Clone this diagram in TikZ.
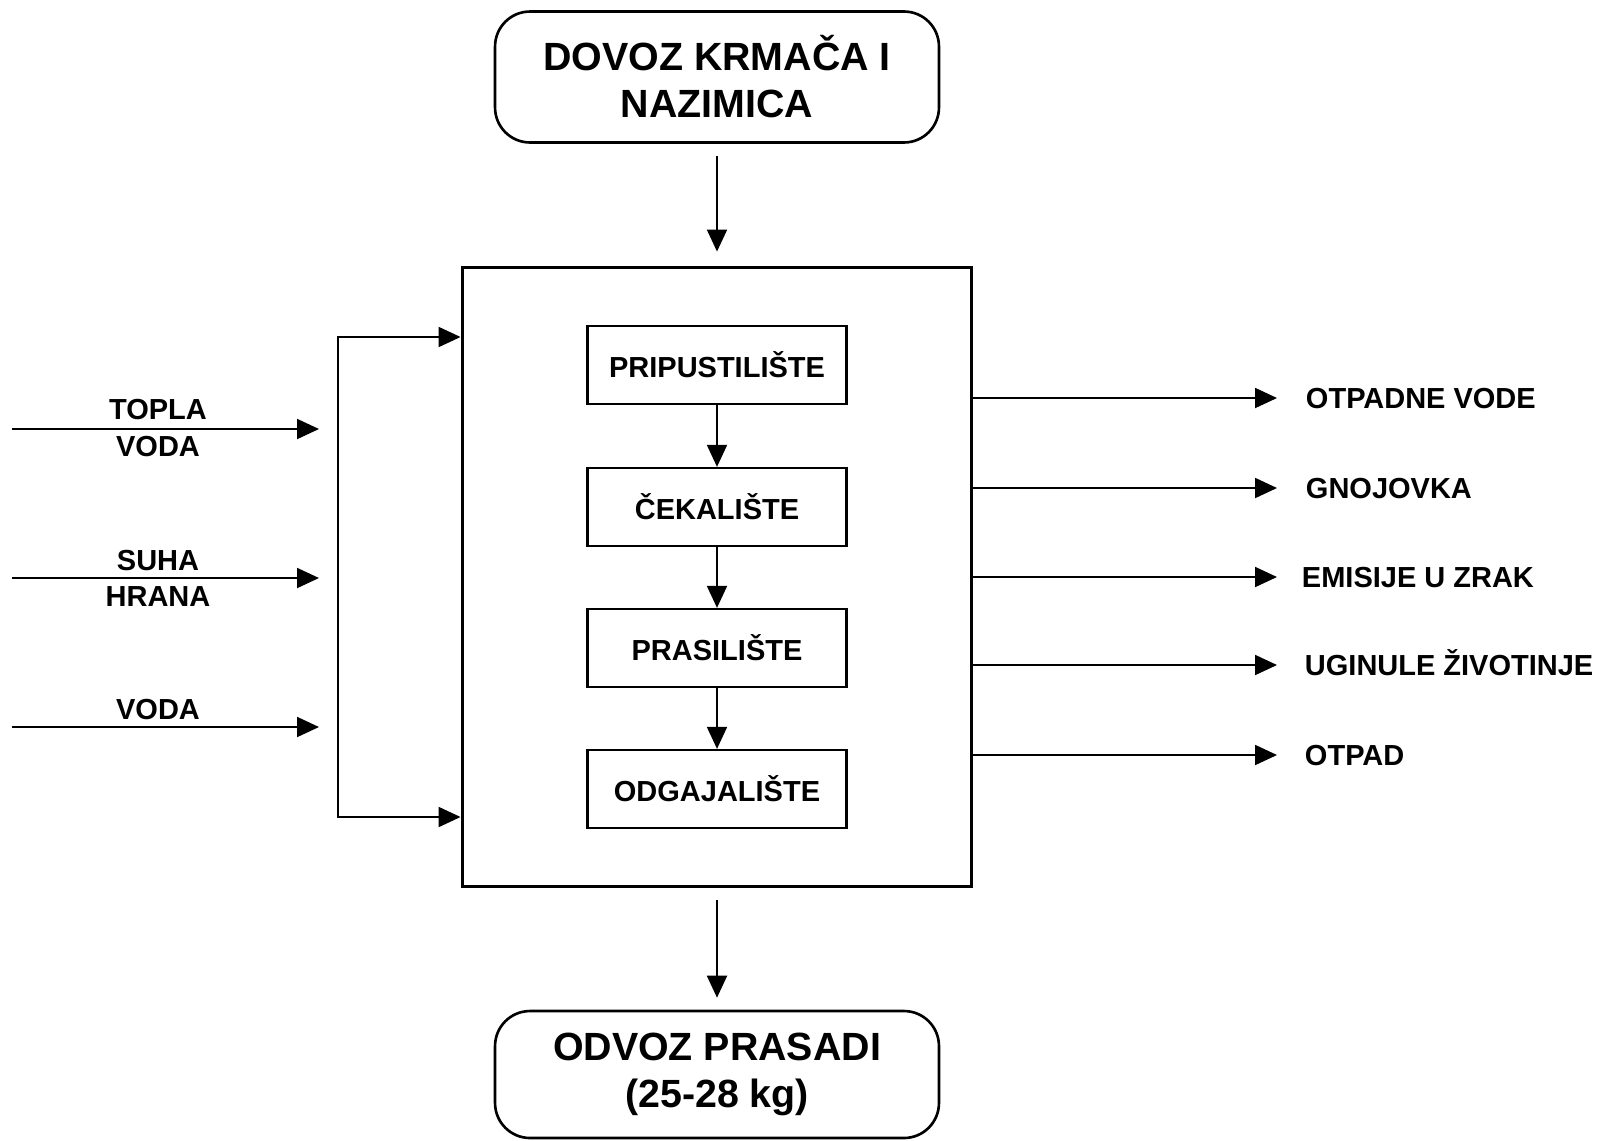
\documentclass[tikz,border=0pt]{standalone}
\usepackage{fontspec}
\setmainfont{Liberation Sans}
\usetikzlibrary{arrows.meta}

\begin{document}
\begin{tikzpicture}[x=0.02cm,y=-0.02cm,>={Triangle[length=0.44cm,width=0.4cm]},line width=1.1pt,
  endbox/.style={draw,rectangle,rounded corners=0.7cm,line width=1.5pt,minimum width=8.88cm,align=center,font=\fontsize{22.4}{26.7}\selectfont\bfseries},
  stagebox/.style={draw,rectangle,line width=1.3pt,minimum width=5.18cm,minimum height=1.56cm,font=\fontsize{16.5}{20}\selectfont\bfseries},
  inlabel/.style={align=center,font=\fontsize{16.5}{20.5}\selectfont\bfseries},
  outlabel/.style={anchor=west,inner sep=0pt,text height=11.8pt,text depth=0pt,font=\fontsize{16.5}{20}\selectfont\bfseries}]
\useasboundingbox (0,0) rectangle (1601,1140);

\node[endbox,minimum height=2.62cm] (dovoz) at (717,77) {DOVOZ KRMAČA I\\NAZIMICA};
\node[draw,rectangle,line width=1.7pt,minimum width=10.2cm,minimum height=12.4cm] (farma) at (717,577) {};
\node[stagebox] (pripust) at (717,365) {PRIPUSTILIŠTE};
\node[stagebox] (cekal) at (717,507) {ČEKALIŠTE};
\node[stagebox] (prasil) at (717,648) {PRASILIŠTE};
\node[stagebox] (odgaj) at (717,789) {ODGAJALIŠTE};
\node[endbox,minimum height=2.54cm] (odvoz) at (717,1074.5) {ODVOZ PRASADI\\(25-28 kg)};

\draw[->,shorten <=0.24cm,shorten >=0.28cm] (dovoz) -- (farma);
\draw[->] (pripust) -- (cekal);
\draw[->] (cekal) -- (prasil);
\draw[->] (prasil) -- (odgaj);
\draw[->,shorten <=0.24cm,shorten >=0.24cm] (farma) -- (odvoz);

% ulazi
\coordinate (topla0) at (12,429);
\coordinate (topla1) at (319,429);
\coordinate (hrana0) at (12,578);
\coordinate (hrana1) at (319,578);
\coordinate (voda0) at (12,727);
\coordinate (voda1) at (319,727);
\node[inlabel] (topla) at (158,428) {TOPLA\\VODA};
\node[inlabel] (hrana) at (158,578.5) {SUHA\\HRANA};
\node[inlabel] (voda) at (158,710) {VODA};
\draw[->] (topla0) -- (topla1);
\draw[->] (hrana0) -- (hrana1);
\draw[->] (voda0) -- (voda1);

\coordinate (brtop) at (338,337);
\coordinate (brbot) at (338,817);
\draw[<->] (farma.west |- brtop) -- (brtop) -- (brbot) -- (farma.west |- brbot);

% izlazi
\node[outlabel] (otpvode) at (1305,398) {OTPADNE VODE};
\node[outlabel] (gnoj) at (1305,488) {GNOJOVKA};
\node[outlabel] (emisije) at (1301,577) {EMISIJE U ZRAK};
\node[outlabel] (uginule) at (1304,665) {UGINULE ŽIVOTINJE};
\node[outlabel] (otpad) at (1304,755) {OTPAD};
\draw[->,shorten >=0.56cm] (farma.east |- otpvode) -- (otpvode.west -| 1305,0);
\draw[->,shorten >=0.56cm] (farma.east |- gnoj) -- (gnoj.west -| 1305,0);
\draw[->,shorten >=0.56cm] (farma.east |- emisije) -- (emisije.west -| 1305,0);
\draw[->,shorten >=0.56cm] (farma.east |- uginule) -- (uginule.west -| 1305,0);
\draw[->,shorten >=0.56cm] (farma.east |- otpad) -- (otpad.west -| 1305,0);
\end{tikzpicture}
\end{document}
